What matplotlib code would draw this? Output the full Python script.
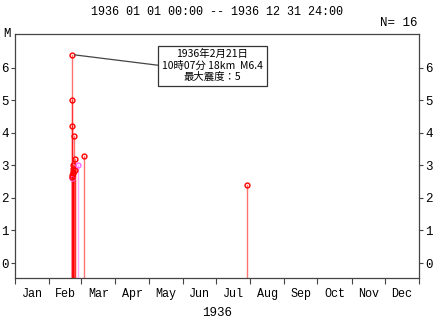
import numpy as np
import pandas as pd
import matplotlib
matplotlib.use('Agg')
import matplotlib.pyplot as plt

# 1936 events (time, magnitude, colour group)
times = ['1936-02-21 10:07', '1936-02-21 12:30', '1936-02-21 18:00', '1936-02-21 20:00',
         '1936-02-21 22:00', '1936-02-22 02:00', '1936-02-22 06:00', '1936-02-22 08:00',
         '1936-02-22 12:00', '1936-02-22 16:00', '1936-02-23 04:00', '1936-02-24 10:00',
         '1936-02-24 14:00', '1936-02-27 08:00', '1936-03-03 06:00', '1936-07-29 06:00']
mags = [6.4, 4.2, 2.7, 2.6, 2.65, 5.0, 2.8, 2.75, 2.9, 3.0, 3.9, 3.2, 2.85, 3.0, 3.3, 2.4]
deep = [False, False, False, True, False, False, False, False,
        False, False, False, False, False, True, False, False]

months = ['Jan', 'Feb', 'Mar', 'Apr', 'May', 'Jun', 'Jul', 'Aug', 'Sep', 'Oct', 'Nov', 'Dec']
title = '1936 01 01 00:00 -- 1936 12 31 24:00'
note = '1936年2月21日\n10時07分 18km  M6.4\n最大震度：5'

mono = ['Liberation Mono', 'DejaVu Sans Mono']
cjk = ['Noto Sans CJK JP', 'DejaVu Sans']

t = pd.to_datetime(times)
year0 = pd.Timestamp('1936-01-01')
doy = np.array((t - year0).total_seconds() / 86400.0)
mags = np.array(mags)
deep = np.array(deep)

month_start = [(pd.Timestamp(1936, m, 1) - year0).days for m in range(1, 13)] + [366]
month_mid = [(a + b) / 2 for a, b in zip(month_start[:-1], month_start[1:])]

fig = plt.figure(figsize=(4.39, 3.18), dpi=100)
ax = fig.add_axes([15/439, 1 - 278/318, 404/439, 244/318])

ymin, ymax = -0.46, 7.03
for x, m, d in zip(doy, mags, deep):
    col = '#ff66ff' if d else 'red'
    ax.plot([x, x], [ymin, m], color=col, alpha=0.55, lw=1.0, zorder=2)
    ax.plot(x, m, 'o', mfc='none', mec=col, mew=1.0, ms=3.5, zorder=3)

ax.set_xlim(0, 366)
ax.set_ylim(ymin, ymax)

ax.set_xticks(month_start)
ax.set_xticklabels([])
ax.set_xticks(month_mid, minor=True)
ax.set_xticklabels(months, minor=True, fontfamily=mono, fontsize=8.5)
ax.tick_params(axis='x', which='major', direction='out', length=4, width=0.8, color='#444444')
ax.tick_params(axis='x', which='minor', length=0, pad=7)

ax.set_yticks(range(0, 7))
ax.tick_params(axis='y', which='major', direction='out', length=3, width=0.8, color='#444444',
               left=True, right=True, labelleft=True, labelright=True, pad=1.5)
for lab in ax.get_yticklabels():
    lab.set_fontfamily(mono)
    lab.set_fontsize(9)

for s in ax.spines.values():
    s.set_color('#444444')
    s.set_linewidth(0.9)

ax.set_xlabel('1936', fontfamily=mono, fontsize=9, labelpad=5)

fig.text(217/439, 1 - 12/318, title, ha='center', va='center', fontfamily=mono, fontsize=8.5)
fig.text(418/439, 1 - 23/318, 'N= 16', ha='right', va='center', fontfamily=mono, fontsize=9)
fig.text(3/439, 1 - 34/318, 'M', ha='left', va='center', fontfamily=mono, fontsize=9)

i = int(np.argmax(mags))
ax.annotate(note, xy=(doy[i], mags[i]), xytext=(0.4886, 0.870), textcoords='axes fraction',
            ha='center', va='center', fontfamily=cjk, fontsize=7.5, linespacing=1.15,
            bbox=dict(boxstyle='square,pad=0.35', fc='white', ec='#333333', lw=0.9),
            arrowprops=dict(arrowstyle='-', color='#444444', lw=0.9, relpos=(0, 0.5),
                            shrinkA=0, shrinkB=2),
            zorder=5)

fig.savefig('out.png', dpi=100)
